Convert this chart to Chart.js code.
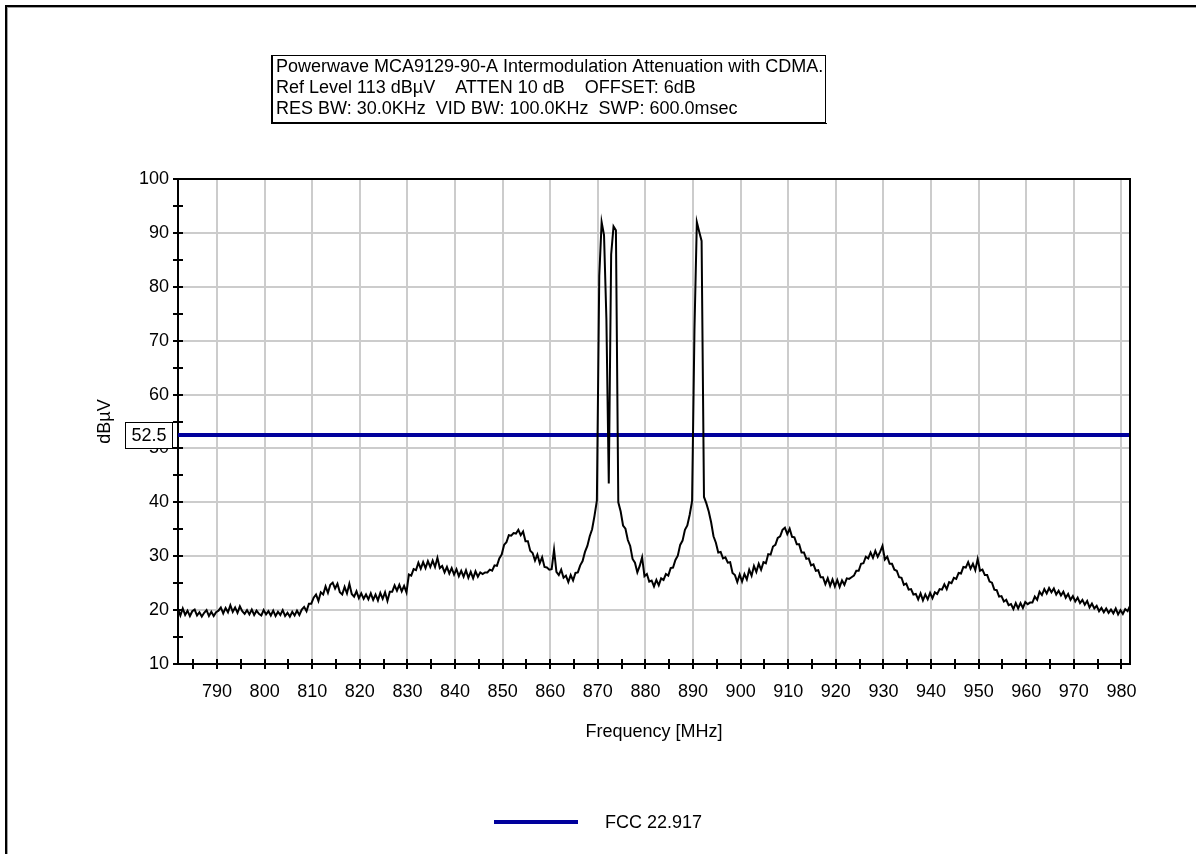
<!DOCTYPE html>
<html>
<head>
<meta charset="utf-8">
<script src="https://cdn.jsdelivr.net/npm/chart.js@4.4.1/dist/chart.umd.min.js"></script>
<style>
html,body{margin:0;padding:0;background:#fff;overflow:hidden}
canvas{display:block}
</style>
</head>
<body>
<canvas id="c" width="1196" height="854"></canvas>
<script>
// ---------- text ----------
const titleLines = [
  'Powerwave MCA9129-90-A Intermodulation Attenuation with CDMA.',
  'Ref Level 113 dBµV    ATTEN 10 dB    OFFSET: 6dB',
  'RES BW: 30.0KHz  VID BW: 100.0KHz  SWP: 600.0msec'
];
const yAxisTitle = 'dBµV';
const xAxisTitle = 'Frequency [MHz]';
const limitName = 'FCC 22.917';
const limitLabel = '52.5';

// ---------- scales ----------
const xMin = 781.8, xMax = 981.8;
const yMin = 10, yMax = 100;
const xTickValues = [785,790,795,800,805,810,815,820,825,830,835,840,845,850,855,860,865,870,875,880,
                     885,890,895,900,905,910,915,920,925,930,935,940,945,950,955,960,965,970,975,980];
const xLabelValues = [790,800,810,820,830,840,850,860,870,880,890,900,910,920,930,940,950,960,970,980];
const yTickValues = [10,15,20,25,30,35,40,45,50,55,60,65,70,75,80,85,90,95,100];
const yLabelValues = [10,20,30,40,50,60,70,80,90,100];

// ---------- data ----------
const limitLevel = 52.5;
const sweepStartMHz = 781.8;
const sweepStepMHz = 0.5;
// measured trace, dBµV, one value every 0.5 MHz from 781.8 MHz
const traceLevels = [
  20.2,19.0,20.3,19.1,19.9,18.9,19.8,20.1,19.0,19.6,18.8,19.5,20.0,18.9,19.7,18.9,19.6,19.9,20.5,19.4,
  20.4,19.6,20.9,19.7,20.5,19.5,20.7,19.8,19.3,20.0,19.2,20.1,19.1,19.9,19.3,19.0,20.0,19.2,19.8,19.0,
  19.9,18.9,19.7,19.1,20.0,18.9,19.5,18.8,19.7,19.0,19.9,19.1,20.1,20.6,19.8,21.2,21.2,22.3,22.9,21.7,
  23.3,22.9,24.4,23.2,24.7,25.1,24.0,24.9,23.3,22.9,24.3,23.1,24.9,23.0,22.5,23.5,22.2,23.1,22.1,22.9,
  22.0,23.1,21.9,22.9,21.8,23.2,22.1,23.3,21.7,23.4,23.4,24.6,23.6,24.7,23.5,24.5,23.3,26.6,26.4,27.6,
  27.4,28.8,27.7,28.9,27.8,29.1,28.0,29.2,28.0,29.7,27.8,28.2,27.0,28.0,26.8,27.8,26.6,27.6,26.3,27.3,
  26.2,27.4,26.0,27.1,25.9,27.2,26.2,27.0,26.7,27.0,27.0,27.5,27.3,28.3,28.2,29.6,30.3,32.1,32.6,33.9,
  33.8,34.3,34.2,34.9,33.9,34.6,32.8,32.8,31.0,30.6,29.2,30.3,28.7,29.8,28.0,27.9,27.5,27.6,31.2,27.1,
  26.5,27.5,26.0,26.4,25.2,26.5,25.5,26.9,27.0,28.3,29.1,30.8,31.9,33.7,35.0,37.5,40.3,82.0,92.0,89.6,
  74.0,43.5,86.0,91.2,90.5,40.0,38.3,35.7,35.1,33.0,31.9,29.5,28.8,27.0,28.2,29.8,26.3,26.7,25.3,25.5,
  24.4,25.6,24.6,25.9,25.6,26.7,26.4,27.8,27.9,29.3,30.1,32.1,32.9,34.9,35.7,37.7,40.2,72.0,92.0,90.2,
  88.5,41.0,39.8,38.3,36.3,33.7,32.5,30.7,30.8,29.6,29.8,28.8,28.9,26.9,26.5,25.2,26.6,25.3,26.7,25.7,
  27.5,26.4,28.2,27.1,28.6,27.5,28.9,28.7,30.4,30.3,31.8,32.1,33.4,33.7,34.9,35.3,34.1,35.1,33.6,33.5,
  32.2,32.2,30.7,30.7,29.5,29.6,28.3,28.5,27.3,27.4,26.1,26.1,24.8,25.9,24.5,25.7,24.4,25.6,24.3,25.5,
  24.7,25.9,25.8,26.1,26.4,27.3,27.3,28.6,28.7,29.9,29.6,30.7,29.7,31.0,29.9,30.8,31.9,29.4,29.9,28.6,
  28.6,27.5,27.3,26.1,26.0,24.7,24.9,23.8,23.9,22.9,23.0,22.0,23.1,21.8,22.9,22.0,23.2,22.2,23.3,23.0,
  23.9,23.8,24.8,23.9,25.2,25.0,26.0,25.8,26.9,26.8,28.0,27.9,28.9,27.7,28.6,27.4,29.5,27.3,27.5,26.5,
  26.5,25.3,25.1,23.8,23.7,22.5,22.6,21.6,21.9,20.9,21.1,20.2,21.3,20.3,21.3,20.4,21.5,21.1,21.4,21.4,
  22.5,21.9,23.4,22.8,23.9,23.1,24.1,23.3,24.0,22.9,23.6,22.7,23.4,22.3,23.0,21.9,22.6,21.6,22.3,21.3,
  21.9,21.0,21.7,20.5,21.2,20.3,20.8,19.8,20.4,19.6,20.3,19.5,20.1,19.4,20.3,19.2,20.0,19.3,20.2,19.8,
  20.8
];

// ---------- styles ----------
const FONT = '"Liberation Sans", Arial, sans-serif';
const FS = 18;
const traceColor = '#000000';
const limitColor = '#00009c';
const gridColor = '#cccccc';

const tracePoints = traceLevels.map((v, i) => ({ x: sweepStartMHz + i * sweepStepMHz, y: v }));
const limitPoints = [{ x: xMin, y: limitLevel }, { x: xMax, y: limitLevel }];

const decorPlugin = {
  id: 'decor',
  beforeDraw(chart) {
    const ctx = chart.ctx;
    ctx.save();
    ctx.fillStyle = '#fff';
    ctx.fillRect(0, 0, chart.width, chart.height);
    // outer frame (top + left)
    ctx.fillStyle = '#000';
    ctx.fillRect(5, 5, chart.width - 5, 2);
    ctx.fillRect(5, 5, 2, chart.height - 5);
    ctx.fillStyle = '#a0a0a0';
    ctx.fillRect(7, 7, chart.width - 7, 1);
    ctx.fillRect(7, 7, 1, chart.height - 7);
    ctx.restore();
  },
  afterDraw(chart) {
    const ctx = chart.ctx;
    const { left, right, top, bottom } = chart.chartArea;
    const xs = chart.scales.x, ys = chart.scales.y;
    ctx.save();
    // top & right border of plot
    ctx.fillStyle = '#000';
    ctx.fillRect(left - 1, top - 1, right - left + 2, 2);
    ctx.fillRect(right - 1, top - 1, 2, bottom - top + 2);
    // crossing tick marks
    ys.ticks.forEach(t => {
      const py = Math.round(ys.getPixelForValue(t.value));
      ctx.fillRect(left - 5, py - 1, 10, 2);
    });
    xs.ticks.forEach(t => {
      const px = Math.round(xs.getPixelForValue(t.value));
      ctx.fillRect(px - 1, bottom - 5, 2, 10);
    });
    // limit value box on the y axis
    const ly = ys.getPixelForValue(limitLevel);
    ctx.fillStyle = '#fff';
    ctx.fillRect(125, ly - 13, 47, 26);
    ctx.strokeStyle = '#000';
    ctx.lineWidth = 1;
    ctx.strokeRect(125.5, Math.round(ly - 13) + 0.5, 47, 26);
    ctx.fillStyle = '#000';
    ctx.font = FS + 'px ' + FONT;
    ctx.textAlign = 'center';
    ctx.textBaseline = 'middle';
    ctx.fillText(limitLabel, 149, ly + 1);
    // title box
    ctx.fillStyle = '#fff';
    ctx.fillRect(272, 55, 553, 67);
    ctx.strokeStyle = '#000';
    ctx.strokeRect(272.5, 55.5, 553, 67);
    ctx.fillStyle = '#000';
    ctx.fillRect(271, 55, 1, 69);
    ctx.fillRect(271, 123, 556, 1);
    ctx.textAlign = 'left';
    titleLines.forEach((s, i) => ctx.fillText(s, 276, 67 + i * 21));
    // legend
    ctx.fillStyle = limitColor;
    ctx.fillRect(494, 820, 84, 4);
    ctx.fillStyle = '#000';
    ctx.fillText(limitName, 605, 823);
    ctx.restore();
  }
};

new Chart(document.getElementById('c'), {
  type: 'line',
  data: {
    datasets: [
      { label: 'Trace', data: tracePoints, borderColor: traceColor, borderWidth: 2,
        pointRadius: 0, tension: 0, fill: false },
      { label: limitName, data: limitPoints, borderColor: limitColor, borderWidth: 4,
        pointRadius: 0, tension: 0, fill: false }
    ]
  },
  options: {
    responsive: false,
    animation: false,
    events: [],
    layout: { padding: { left: 0, top: 179, right: 66, bottom: 0 } },
    plugins: { legend: { display: false }, title: { display: false }, tooltip: { enabled: false } },
    scales: {
      x: {
        type: 'linear', min: xMin, max: xMax,
        afterBuildTicks: s => { s.ticks = xTickValues.map(v => ({ value: v })); },
        afterFit: s => { s.height = 190; },
        ticks: {
          autoSkip: false, maxRotation: 0, padding: 17, color: '#000',
          font: { family: FONT, size: FS },
          callback: v => xLabelValues.includes(v) ? String(v) : ''
        },
        grid: {
          drawTicks: false,
          lineWidth: 2,
          color: c => (c.tick && xLabelValues.includes(c.tick.value)) ? gridColor : 'rgba(0,0,0,0)'
        },
        border: { display: true, color: '#000', width: 2 },
        title: { display: true, text: xAxisTitle, color: '#000',
                 font: { family: FONT, size: FS }, padding: { top: 0, bottom: 111 } }
      },
      y: {
        type: 'linear', min: yMin, max: yMax,
        afterBuildTicks: s => { s.ticks = yTickValues.map(v => ({ value: v })); },
        afterFit: s => { s.width = 178; },
        ticks: {
          autoSkip: false, padding: 9, color: '#000',
          font: { family: FONT, size: FS },
          callback: v => yLabelValues.includes(v) ? String(v) : ''
        },
        grid: {
          drawTicks: false,
          lineWidth: 2,
          color: c => (c.tick && yLabelValues.includes(c.tick.value)) ? gridColor : 'rgba(0,0,0,0)'
        },
        border: { display: true, color: '#000', width: 2 },
        title: { display: true, text: yAxisTitle, color: '#000',
                 font: { family: FONT, size: FS }, padding: { top: 94, bottom: 0 } }
      }
    }
  },
  plugins: [decorPlugin]
});
</script>
</body>
</html>
